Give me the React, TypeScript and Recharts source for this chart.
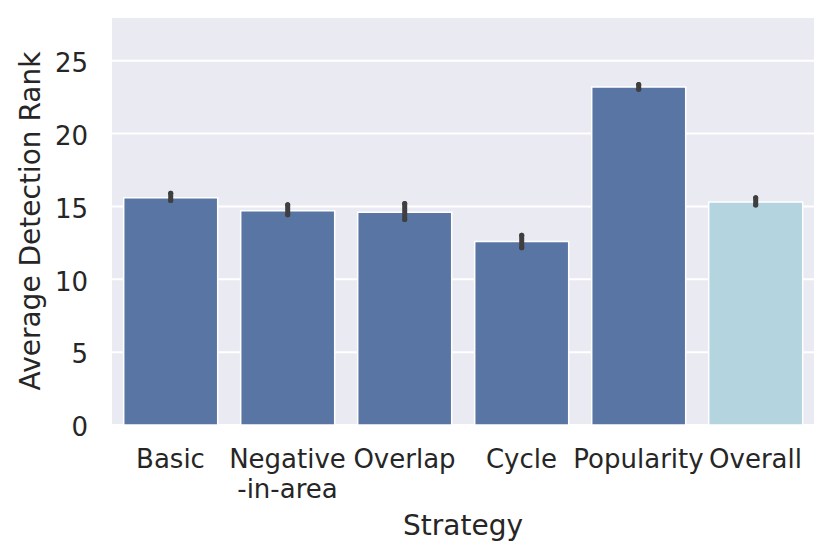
import React from 'react';
import { BarChart, Bar, XAxis, YAxis, CartesianGrid, ErrorBar, Cell } from 'recharts';

// strategies on the x axis ("\n" marks a wrapped tick label)
const categories = ['Basic', 'Negative\n-in-area', 'Overlap', 'Cycle', 'Popularity', 'Overall'];
// mean detection rank per strategy
const meanRank = [15.6, 14.7, 14.6, 12.6, 23.2, 15.3];
// confidence interval, distance below / above the mean
const ciBelow = [0.2, 0.27, 0.5, 0.44, 0.15, 0.2];
const ciAbove = [0.3, 0.41, 0.6, 0.43, 0.17, 0.3];
const yTicks = [0, 5, 10, 15, 20, 25];

const data = categories.map((name, i) => ({
    name,
    rank: meanRank[i],
    ci: [ciBelow[i], ciAbove[i]],
}));

const FONT = '"DejaVu Sans", sans-serif';
const INK = '#262626';
const BLUE = '#5975A4';
const LIGHT_BLUE = '#B4D4DF';

const CategoryTick = ({ x, y, payload }: any) => {
    const lines = String(payload.value).split('\n');
    return (
        <text x={x} y={y} textAnchor="middle" fill={INK} fontSize={26} fontFamily={FONT}>
            {lines.map((line, i) => (
                <tspan key={i} x={x} dy={i === 0 ? '0.71em' : '1.12em'}>{line}</tspan>
            ))}
        </text>
    );
};

const YTitle = ({ viewBox }: any) => {
    const cy = viewBox.y + viewBox.height / 2;
    const bx = 39.5;
    return (
        <text x={bx} y={cy} transform={`rotate(-90, ${bx}, ${cy})`} textAnchor="middle"
              fill={INK} fontSize={28} fontFamily={FONT}>
            Average Detection Rank
        </text>
    );
};

export default function App() {
    return (
        <div style={{ position: 'absolute', left: 0, top: 0, width: 831, height: 558, background: '#fff' }}>
            <BarChart width={831} height={558} data={data}
                      margin={{ top: 17, right: 17, bottom: 0, left: 0 }} barCategoryGap="10%">
                <CartesianGrid vertical={false} fill="#EAEAF2" stroke="#fff" strokeWidth={2} />
                <XAxis dataKey="name" height={133} interval={0} axisLine={false} tickLine={false}
                       tickSize={0} tickMargin={25} tick={<CategoryTick />}
                       label={{ value: 'Strategy', position: 'insideBottom', offset: 23, fill: INK, fontSize: 28, fontFamily: FONT }} />
                <YAxis width={112} domain={[0, 28]} ticks={yTicks} axisLine={false} tickLine={false}
                       tickSize={0} tickMargin={24}
                       tick={{ fill: INK, fontSize: 26, fontFamily: FONT, dy: 2 }}
                       label={<YTitle />} />
                <Bar dataKey="rank" stroke="#fff" strokeWidth={1.5} isAnimationActive={false}>
                    {data.map(d => (
                        <Cell key={d.name} fill={d.name === 'Overall' ? LIGHT_BLUE : BLUE} />
                    ))}
                    <ErrorBar dataKey="ci" direction="y" width={0} stroke="#3f3f3f"
                              strokeWidth={5} strokeLinecap="round" />
                </Bar>
            </BarChart>
        </div>
    );
}
